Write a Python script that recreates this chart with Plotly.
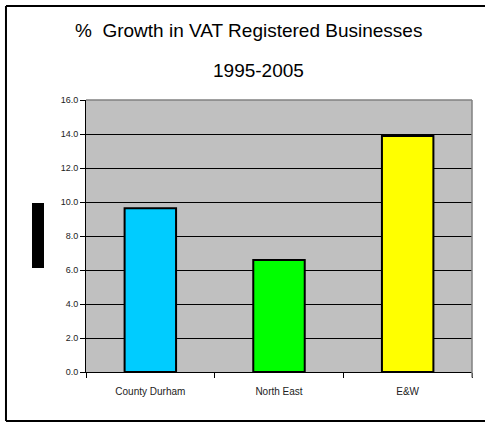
import plotly.graph_objects as go

# Percentage growth in VAT registered businesses, 1995-2005
areas = ["County Durham", "North East", "E&W"]
growth = [9.63, 6.59, 13.88]
bar_colors = ["#00CCFF", "#00FF00", "#FFFF00"]
y_ticks = [0, 2, 4, 6, 8, 10, 12, 14, 16]
y_tick_labels = ["0.0", "2.0", "4.0", "6.0", "8.0", "10.0", "12.0", "14.0", "16.0"]

# outer chart frame in paper units (it runs up to the right edge of the page)
FRAME_L, FRAME_R, FRAME_B, FRAME_T = -0.2073, 1.034, -0.180, 1.3456
frame_line = dict(color="#000000", width=2)

fig = go.Figure(
    go.Bar(
        x=areas,
        y=growth,
        width=0.4,
        marker=dict(color=bar_colors, line=dict(color="#000000", width=2)),
    )
)

fig.update_layout(
    width=485,
    height=423,
    margin=dict(l=86, r=13, t=100, b=51),
    paper_bgcolor="#FFFFFF",
    plot_bgcolor="#C0C0C0",
    showlegend=False,
    font=dict(family="Liberation Sans, Arial, sans-serif", color="#000000"),
    xaxis=dict(
        type="category",
        showgrid=False,
        ticks="outside",
        tickson="boundaries",
        ticklen=5,
        tickcolor="#000000",
        showline=True,
        linecolor="#000000",
        linewidth=1,
        tickfont=dict(size=10, color="#222222"),
        ticklabelstandoff=10,
        fixedrange=True,
    ),
    yaxis=dict(
        range=[0, 16],
        tickvals=y_ticks,
        ticktext=y_tick_labels,
        showgrid=True,
        gridcolor="#000000",
        gridwidth=1,
        zeroline=False,
        ticks="outside",
        ticklen=5,
        tickcolor="#000000",
        showline=True,
        linecolor="#000000",
        linewidth=1,
        tickfont=dict(size=9, color="#222222"),
        fixedrange=True,
    ),
    shapes=[
        # grey frame on the top and right of the plot area
        dict(type="line", xref="paper", yref="paper", x0=0, x1=1, y0=1, y1=1,
             line=dict(color="#808080", width=1.5)),
        dict(type="line", xref="paper", yref="paper", x0=1, x1=1, y0=-0.02, y1=1,
             line=dict(color="#808080", width=1.5)),
        # outer chart frame: top, left and bottom sides
        dict(type="line", xref="paper", yref="paper", x0=FRAME_L, x1=FRAME_R,
             y0=FRAME_T, y1=FRAME_T, line=frame_line),
        dict(type="line", xref="paper", yref="paper", x0=FRAME_L, x1=FRAME_L,
             y0=FRAME_B, y1=FRAME_T, line=frame_line),
        dict(type="line", xref="paper", yref="paper", x0=FRAME_L, x1=FRAME_R,
             y0=FRAME_B, y1=FRAME_B, line=frame_line),
        # axis title block
        dict(type="rect", xref="paper", yref="paper",
             x0=-0.1399, x1=-0.1088, y0=0.3824, y1=0.6213,
             line=dict(width=0), fillcolor="#000000"),
    ],
    annotations=[
        dict(text="%  Growth in VAT Registered Businesses", xref="paper", yref="paper",
             x=(248 - 86) / 386, y=(372 - 30) / 272, xanchor="center", yanchor="middle",
             showarrow=False, font=dict(size=19, color="#000000")),
        dict(text="1995-2005", xref="paper", yref="paper",
             x=(258 - 86) / 386, y=(372 - 71) / 272, xanchor="center", yanchor="middle",
             showarrow=False, font=dict(size=19, color="#000000")),
    ],
)

fig.write_html("out.html")
